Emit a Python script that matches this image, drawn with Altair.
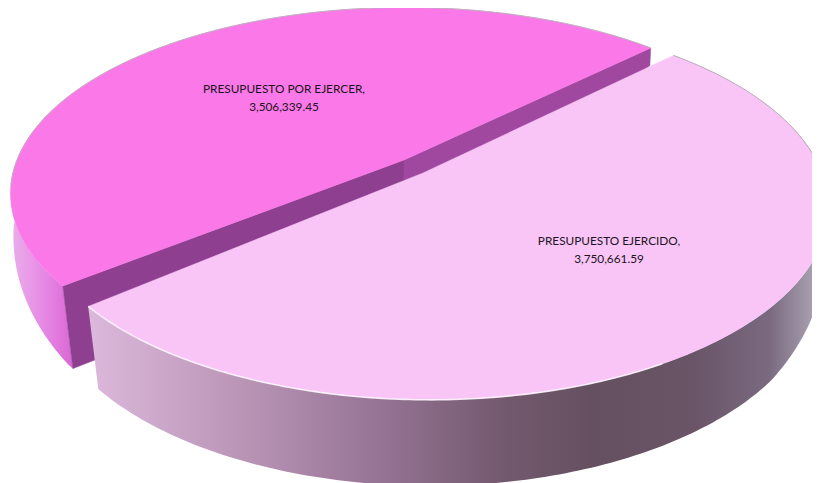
import numpy as np
import pandas as pd
import altair as alt

# --- chart values -------------------------------------------------------
names = ["PRESUPUESTO EJERCIDO", "PRESUPUESTO POR EJERCER"]
values = [3750661.59, 3506339.45]

# --- 3-D pie view -------------------------------------------------------
START = -45.5          # where the first slice starts, degrees
K = 0.18               # perspective
H, M = 79.0, 0.027     # wall height and its perspective
RIGHT = {"c": (430.0, 173.0), "apex": (423.0, 173.0), "r": 392.0, "s": 186.0}
LEFT = {"c": (405.0, 160.0), "apex": (404.0, 160.0), "r": 388.0, "s": 180.0}
LEFT_TURN = 1.0

sweep = [360.0 * v / sum(values) for v in values]
right_a = (START, START + sweep[0])
left_a = (START + sweep[0] + LEFT_TURN, START + sweep[0] + sweep[1] + LEFT_TURN)


def arc(s, a, b, z=0.0, n=120):
    t = np.radians(np.linspace(a, b, n))
    u, v = np.cos(t), np.sin(t)
    h = H * np.clip(0.55 + 0.75 * v, 0.25, 1.0) * z
    den = 1 - K * v + M * np.clip(v / 0.6, 0.15, 1.0) * z
    return list(zip(s["c"][0] + s["r"] * u / den, s["c"][1] + (s["s"] * v + h) / den))


def corner(s, a, z=0.0):
    return arc(s, a, a, z, 1)[0]


def frame(points):
    return pd.DataFrame({"x": [p[0] for p in points], "y": [p[1] for p in points],
                         "i": range(len(points))})


x_scale = alt.Scale(domain=[8, 812])
y_scale = alt.Scale(domain=[483, 8])
X = alt.X("x:Q", scale=x_scale, axis=None)
Y = alt.Y("y:Q", scale=y_scale, axis=None)


def gradient(stops):
    return alt.LinearGradient(
        gradient="linear", x1=0, y1=0, x2=1, y2=0,
        stops=[alt.GradientStop(offset=o, color=c) for o, c in stops])


def polygon(points, fill):
    solid = isinstance(fill, str)
    return alt.Chart(frame(points + points[:1])).mark_line(
        fill=fill, stroke=fill if solid else "#00000000", strokeWidth=0.5 if solid else 0
    ).encode(x=X, y=Y, order="i:Q")


def stroke(points, color, width, opacity=1.0):
    return alt.Chart(frame(points)).mark_line(
        stroke=color, strokeWidth=width, opacity=opacity).encode(x=X, y=Y, order="i:Q")


layers = []
ax, ay = LEFT["apex"]

# left slice: outer wall, cut walls, top
wall_l = arc(LEFT, left_a[0], 195) + arc(LEFT, 195, left_a[0], 1)
layers.append(polygon(wall_l, gradient([(0, "#eab0ea"), (0.35, "#e896e8"), (0.75, "#e278de"), (1, "#d868d2")])))
layers.append(polygon([(ax, ay), corner(LEFT, left_a[0]), corner(LEFT, left_a[0], 1), (ax, ay + H)], "#8f3f8f"))
layers.append(polygon([(ax, ay), corner(LEFT, left_a[1]), corner(LEFT, left_a[1], 1), (ax, ay + H)], "#a048a0"))
layers.append(polygon([(ax, ay)] + arc(LEFT, left_a[0], left_a[1], n=180), "#fa78e8"))
layers.append(stroke(arc(LEFT, 172, left_a[1], n=180), "#bdb2bd", 1))

# right slice: outer wall, top
wall_r = arc(RIGHT, -15, right_a[1], n=180) + arc(RIGHT, right_a[1], -15, 1, n=180)
layers.append(polygon(wall_r, gradient([
    (0, "#dcb8dc"), (0.2, "#bb96b7"), (0.38, "#987698"), (0.55, "#755a70"),
    (0.68, "#655060"), (0.82, "#6a5568"), (0.92, "#7a6a80"), (0.98, "#a8a0b0"), (1, "#c4b8c4")])))
layers.append(polygon([RIGHT["apex"]] + arc(RIGHT, right_a[0], right_a[1], n=180), "#f9c5f7"))
layers.append(stroke(arc(RIGHT, 60, right_a[1]), "#ffffff", 1.6, 0.75))
layers.append(stroke(arc(RIGHT, right_a[0], 5), "#b5aab5", 1))

# labels
labels = pd.DataFrame({
    "line1": [n + "," for n in names],
    "line2": [f"{v:,.2f}" for v in values],
    "x": [609, 284],
    "y": [241, 89],
})
for field, dy in (("line1", 0), ("line2", 17.5)):
    layers.append(alt.Chart(labels).transform_calculate(yy=f"datum.y + {dy}").mark_text(
        font="Lato", fontSize=11.8, color="#1c1420", align="center", baseline="middle"
    ).encode(x=alt.X("x:Q", scale=x_scale, axis=None),
             y=alt.Y("yy:Q", scale=y_scale, axis=None),
             text=f"{field}:N"))

chart = alt.layer(*layers).properties(
    width=804, height=475, padding=0, background="white",
    autosize=alt.AutoSizeParams(type="none"),
).configure_view(stroke=None)

chart.save("out.html", embed_options={"renderer": "svg", "actions": False})
